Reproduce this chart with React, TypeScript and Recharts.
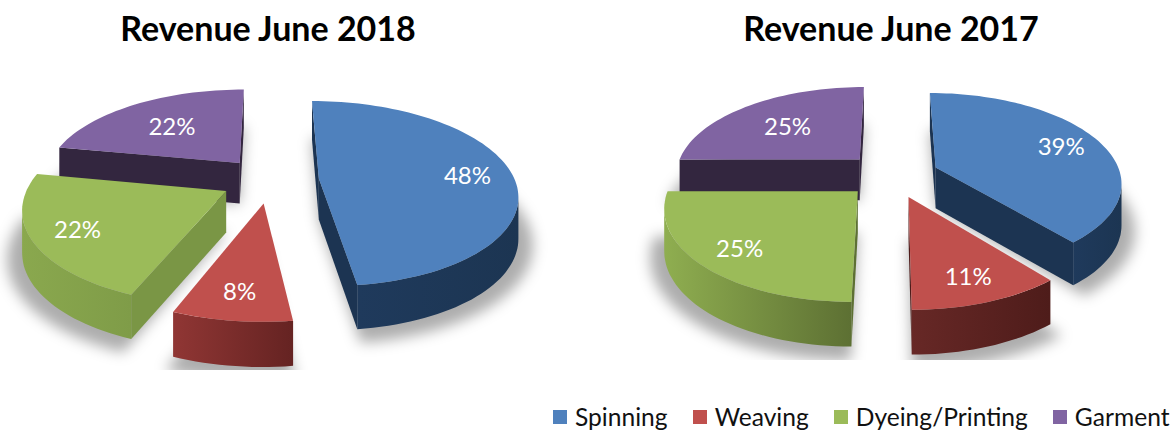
import { Legend, Pie, PieChart } from 'recharts';

// Slices are listed back to front so nearer ones paint over farther ones.
const CATEGORIES = ['Garment', 'Dyeing/Printing', 'Weaving', 'Spinning'];
const REVENUE_2018 = [22, 22, 8, 48];
const REVENUE_2017 = [25, 25, 11, 39];
const TOP_COLORS = ['#8064A2', '#9BBB59', '#C0504D', '#4F81BD'];
const LEGEND_ORDER = [3, 2, 1, 0];

const SIDES_2018 = [
  { from: '#33263F', to: '#33263F', edge: '#33263F' },
  { from: '#8AA84E', to: '#7F9C48', edge: '#7A9645' },
  { from: '#903634', to: '#652322', edge: '#7A2C2A' },
  { from: '#1F3A5C', to: '#1C3552', edge: '#1C3452' },
];
const SIDES_2017 = [
  { from: '#33263F', to: '#33263F', edge: '#33263F' },
  { from: '#8FAE50', to: '#5D7033', edge: '#5D7033' },
  { from: '#672826', to: '#4E1C1A', edge: '#4E1C1A' },
  { from: '#1F3A5C', to: '#1C3552', edge: '#1C3452' },
];
const LABEL_REACH = [0.62, 0.78, 0.78, 0.77];

const PERSPECTIVE = 0.00083;
const DEPTH = 41;

const FONT = 'Lato, sans-serif';

type Geo = {
  apex: number[];
  apexLow: number[];
  rim: number[][];
  rimLow: number[][];
};

// The wall height shrinks with distance more gently than the top face does.
function project(p: any, tilt: number, x: number, y: number, drop: number) {
  const s = 1 / (1 - y * PERSPECTIVE);
  return [p.cx + x * s, p.cy + y * tilt * s + drop * (1 + (s - 1) * 0.4)];
}

// Clockwise degrees from twelve o'clock, with y growing towards the viewer.
function sliceGeo(p: any, tilt: number, explode: number, reach = 1, drop = DEPTH): Geo {
  const lo = 90 - p.endAngle;
  const hi = 90 - p.startAngle;
  const mid = (((lo + hi) / 2) * Math.PI) / 180;
  const ex = explode * Math.sin(mid);
  const ey = -explode * Math.cos(mid);
  const steps = Math.max(2, Math.ceil((hi - lo) / 2));
  const rim: number[][] = [];
  const rimLow: number[][] = [];
  for (let i = 0; i <= steps; i++) {
    const t = ((lo + ((hi - lo) * i) / steps) * Math.PI) / 180;
    const x = ex + p.outerRadius * reach * Math.sin(t);
    const y = ey - p.outerRadius * reach * Math.cos(t);
    rim.push(project(p, tilt, x, y, 0));
    rimLow.push(project(p, tilt, x, y, drop));
  }
  return {
    apex: project(p, tilt, ex, ey, 0),
    apexLow: project(p, tilt, ex, ey, DEPTH),
    rim,
    rimLow,
  };
}

const pts = (list: number[][]) => list.map((q) => `${q[0].toFixed(1)},${q[1].toFixed(1)}`).join(' ');

// A wall shows when the outward normal of its top edge points down the screen.
function edgeFacesViewer(a: number[], b: number[], inside: number[]) {
  const ex = b[0] - a[0];
  const ey = b[1] - a[1];
  let nx = -ey;
  let ny = ex;
  if (nx * (inside[0] - a[0]) + ny * (inside[1] - a[1]) > 0) {
    nx = -nx;
    ny = -ny;
  }
  return ny > 0;
}

function makeSliceShape(id: string, sides: typeof SIDES_2018, tilt: number, explode: number) {
  return function SliceShape(props: any) {
    const i = CATEGORIES.indexOf(props.name);
    const g = sliceGeo(props, tilt, explode);
    const midRim = g.rim[Math.floor(g.rim.length / 2)];
    const last = g.rim.length - 1;
    const walls: number[][][] = [];
    if (edgeFacesViewer(g.apex, g.rim[0], midRim)) walls.push([g.apex, g.rim[0], g.rimLow[0], g.apexLow]);
    if (edgeFacesViewer(g.apex, g.rim[last], midRim)) walls.push([g.apex, g.rim[last], g.rimLow[last], g.apexLow]);

    const front: number[] = [];
    for (let k = 0; k < last; k++) {
      if (edgeFacesViewer(g.rim[k], g.rim[k + 1], g.apex)) front.push(k, k + 1);
    }
    const idx = [...new Set(front)];
    const strip = [...idx.map((k) => g.rim[k]), ...idx.reverse().map((k) => g.rimLow[k])];
    const gradId = `${id}-side-${i}`;

    return (
      <g>
        <defs>
          <linearGradient id={gradId} x1="0" y1="0" x2="1" y2="0">
            <stop offset="0%" stopColor={sides[i].from} />
            <stop offset="100%" stopColor={sides[i].to} />
          </linearGradient>
        </defs>
        {walls.map((w, k) => (
          <polygon key={k} points={pts(w)} fill={sides[i].edge} />
        ))}
        {strip.length > 0 && <polygon points={pts(strip)} fill={`url(#${gradId})`} />}
        <polygon points={pts([g.apex, ...g.rim])} fill={TOP_COLORS[i]} />
      </g>
    );
  };
}

// Soft ground shadow, a slightly enlarged copy of the slice's underside.
function makeShadowShape(id: string, tilt: number, explode: number, floor: number) {
  return function ShadowShape(props: any) {
    const g = sliceGeo(props, tilt, explode, 1.07, DEPTH + 4);
    const filterId = `${id}-shadow-${props.name.replace(/\W/g, '')}`;
    return (
      <g>
        <defs>
          <filter id={filterId} filterUnits="userSpaceOnUse" x="0" y="0" width="640" height={floor}>
            <feGaussianBlur stdDeviation="7" />
          </filter>
        </defs>
        <polygon points={pts([g.apexLow, ...g.rimLow])} fill="#000" fillOpacity={0.32} filter={`url(#${filterId})`} />
      </g>
    );
  };
}

function makeLabel(tilt: number, explode: number) {
  return function PercentLabel(props: any) {
    const i = CATEGORIES.indexOf(props.name);
    const mid = ((90 - (props.startAngle + props.endAngle) / 2) * Math.PI) / 180;
    const reach = explode + props.outerRadius * LABEL_REACH[i];
    const at = project(props, tilt, reach * Math.sin(mid), -reach * Math.cos(mid), 0);
    return (
      <text x={at[0]} y={at[1]} fill="#fff" fontFamily={FONT} fontSize={24} textAnchor="middle" dominantBaseline="central">
        {`${props.value}%`}
      </text>
    );
  };
}

function ExplodedPie({ id, width, values, sides, cx, cy, radius, tilt, explode, floor, children }: any) {
  const rows = CATEGORIES.map((name, i) => ({ name, value: values[i] }));
  return (
    <PieChart width={width} height={430}>
      <Pie
        data={rows}
        dataKey="value"
        nameKey="name"
        cx={cx}
        cy={cy}
        outerRadius={radius}
        startAngle={90}
        endAngle={450}
        shape={makeShadowShape(id, tilt, explode, floor)}
        legendType="none"
        isAnimationActive={false}
      />
      <Pie
        data={rows}
        dataKey="value"
        nameKey="name"
        cx={cx}
        cy={cy}
        outerRadius={radius}
        startAngle={90}
        endAngle={450}
        shape={makeSliceShape(id, sides, tilt, explode)}
        label={makeLabel(tilt, explode)}
        labelLine={false}
        isAnimationActive={false}
      />
      {children}
    </PieChart>
  );
}

function LegendRow() {
  return (
    <div style={{ display: 'flex', gap: 25, fontFamily: FONT, fontSize: 24.6, lineHeight: '26px', color: '#111', whiteSpace: 'nowrap' }}>
      {LEGEND_ORDER.map((i) => (
        <span key={i} style={{ display: 'flex', alignItems: 'center', gap: 8 }}>
          <span style={{ width: 14, height: 14, background: TOP_COLORS[i] }} />
          {CATEGORIES[i]}
        </span>
      ))}
    </div>
  );
}

const titleStyle = (center: number) =>
  ({
    position: 'absolute',
    left: center - 200,
    top: 9,
    width: 400,
    textAlign: 'center',
    fontFamily: FONT,
    fontWeight: 700,
    fontSize: 34,
    lineHeight: '38px',
    color: '#000',
  }) as const;

export default function App() {
  return (
    <div style={{ position: 'absolute', left: 0, top: 0, width: 1174, height: 430, overflow: 'hidden', background: '#fff' }}>
      <div style={{ position: 'absolute', left: 0, top: 0 }}>
        <ExplodedPie
          id="y2018"
          width={570}
          values={REVENUE_2018}
          sides={SIDES_2018}
          cx={265}
          cy={175}
          radius={196}
          tilt={0.462}
          explode={49}
          floor={370}
        />
      </div>
      <div style={{ position: 'absolute', left: 540, top: 0 }}>
        <ExplodedPie
          id="y2017"
          width={634}
          values={REVENUE_2017}
          sides={SIDES_2017}
          cx={347}
          cy={170}
          radius={185}
          tilt={0.476}
          explode={47}
          floor={360}
        >
          <Legend
            content={<LegendRow />}
            wrapperStyle={{ position: 'absolute', left: 13, top: 404, width: 'auto', bottom: 'auto' }}
          />
        </ExplodedPie>
      </div>
      <div style={titleStyle(268)}>Revenue June 2018</div>
      <div style={titleStyle(891)}>Revenue June 2017</div>
    </div>
  );
}
